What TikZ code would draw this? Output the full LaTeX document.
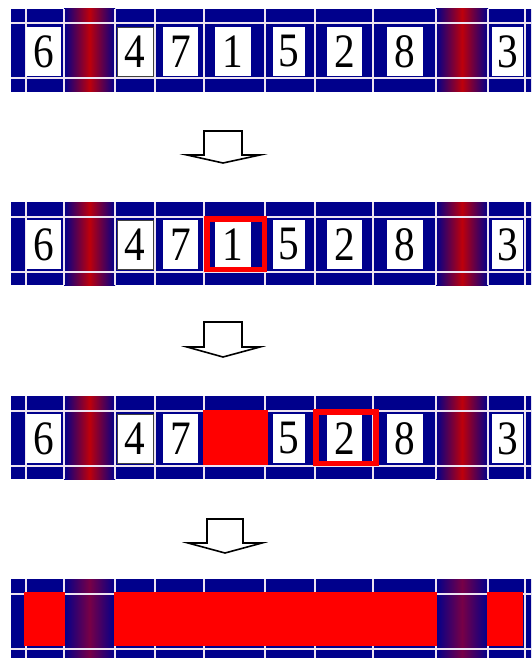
\documentclass[tikz,border=0pt]{standalone}
\usepackage{graphicx}
\usepackage{fontspec}
\setmainfont{Liberation Serif}
\newfontfamily\digitfont{Liberation Serif}
\definecolor{navy}{RGB}{0,0,140}
\definecolor{gred}{RGB}{190,0,10}
\definecolor{gpurp}{RGB}{120,0,70}
\definecolor{wline}{RGB}{238,228,240}
\definecolor{hred}{RGB}{255,0,0}
\newcommand\dg[1]{\scalebox{0.86}[1]{#1}}
\tikzset{
  numbox/.style={fill=white, inner sep=0pt, minimum height=49pt, font=\digitfont\fontsize{48}{48}\selectfont},
  gridline/.style={draw=wline, line width=2pt},
  hlbox/.style={draw=hred, line width=5.5pt},
  redfill/.style={fill=hred},
  blockarrow/.style={draw=black, fill=white, line width=1.6pt, line join=miter},
}
% #1 top y, #2 gradient centre colour
\newcommand\stripbase[2]{%
  \begin{scope}[shift={(0,#1)}]
    \fill[navy] (11,0) rectangle (540,83);
    \shade[left color=navy, right color=navy, middle color=#2] (64,0) rectangle (115,83);
    \shade[left color=navy, right color=navy, middle color=#2] (436,0) rectangle (488,83);
    \draw[gridline] (11,14.5) -- (540,14.5);
    \draw[gridline] (11,69.5) -- (540,69.5);
    \foreach \xx in {26,64,115,155,204,265,315,373,436,488,525}
      \draw[gridline] (\xx,0) -- (\xx,83);
  \end{scope}}
% #1 top y, #2 name prefix
\newcommand\stripnums[2]{%
  \begin{scope}[shift={(0,#1)}]
    \node[numbox, minimum width=35pt] (#2six) at (43.5,42.5) {\dg{6}};
    \node[numbox, minimum width=36pt, draw=black!75, line width=0.6pt] (#2four) at (135,42.5) {\dg{4}};
    \node[numbox, minimum width=35pt] (#2seven) at (180.5,42.5) {\dg{7}};
    \node[numbox, minimum width=32pt] (#2five) at (289,42.5) {\dg{5}};
    \node[numbox, minimum width=35pt] (#2two) at (344.5,42.5) {\dg{2}};
    \node[numbox, minimum width=36pt] (#2eight) at (405,42.5) {\dg{8}};
    \node[numbox, minimum width=31pt] (#2three) at (507.5,42.5) {\dg{3}};
  \end{scope}}
% #1 stem left, #2 stem right, #3 head left, #4 head right, #5 tip x, #6 top y, #7 base y, #8 tip y
\newcommand\stepdownarrow[8]{%
  \draw[blockarrow] (#1,#6) -- (#2,#6) -- (#2,#7) -- (#4,#7) -- (#5,#8) -- (#3,#7) -- (#1,#7) -- cycle;}
\begin{document}
\begin{tikzpicture}[x=1pt, y=-1pt]
\useasboundingbox (0,0) rectangle (531,658);
\clip (0,0) rectangle (531,658);
\fill[white] (0,0) rectangle (531,658);

% strip 1
\stripbase{9}{gred}
\stripnums{9}{a}
\node[numbox, minimum width=36pt] (aone) at (233,51.5) {\dg{1}};

% arrow 1
\stepdownarrow{204}{242}{187}{260}{223}{131}{155}{163}

% strip 2
\stripbase{202}{gred}
\stripnums{202}{b}
\node[numbox, minimum width=36pt] (bone) at (233,244.5) {\dg{1}};
\draw[hlbox] (206.75,218.75) rectangle (264.25,269.25);

% arrow 2
\stepdownarrow{204}{242}{187}{260}{223}{322}{347}{357}

% strip 3
\stripbase{396}{gred}
\stripnums{396}{c}
\fill[redfill] (203,410) rectangle (268,465);
\draw[hlbox] (315.75,411.75) rectangle (375.75,463.25);

% arrow 3
\stepdownarrow{207}{243}{188}{262}{225}{519}{543}{553}

% strip 4
\stripbase{579}{gpurp}
\fill[redfill] (24,592) rectangle (65,646);
\fill[redfill] (114,592) rectangle (437,646);
\fill[redfill] (487,592) rectangle (523,646);
\end{tikzpicture}
\end{document}
